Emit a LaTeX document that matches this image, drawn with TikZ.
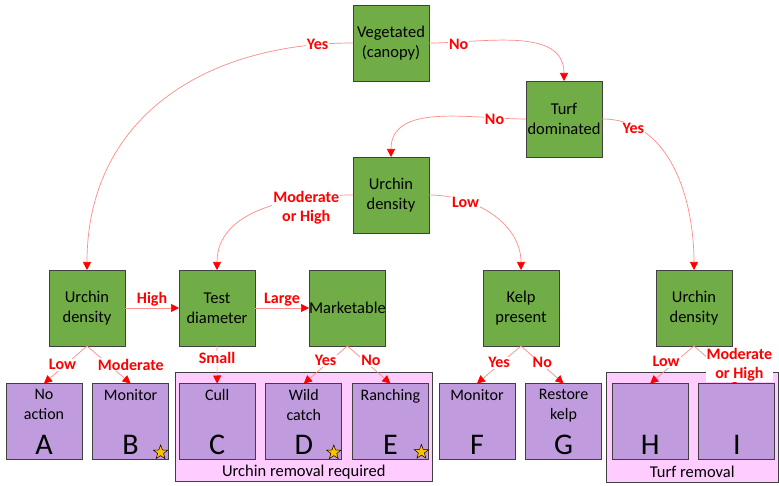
\documentclass[tikz,border=0pt]{standalone}
\usepackage{fontspec}
\setmainfont{Carlito}
\usetikzlibrary{shapes.geometric, arrows.meta, positioning, fit, backgrounds, calc}
\definecolor{decisiongreen}{HTML}{70AD47}
\definecolor{outcomepurple}{HTML}{C09BDE}
\definecolor{grouppink}{HTML}{FFCCFF}
\definecolor{boxborder}{HTML}{404040}
\definecolor{linkred}{HTML}{FF8A8A}
\definecolor{tipred}{HTML}{FF0000}
\definecolor{stargold}{HTML}{FFC000}
\tikzstyle{decision} = [rectangle, minimum width=76pt, minimum height=76pt, inner sep=0pt, outer sep=0pt, align=center, draw=boxborder, line width=0.8pt, fill=decisiongreen, font=\fontsize{16.5}{20}\selectfont]
\tikzstyle{outcome} = [rectangle, minimum width=76pt, minimum height=76pt, inner sep=0pt, outer sep=0pt, draw=boxborder, line width=0.8pt, fill=outcomepurple]
\tikzstyle{outcometext} = [anchor=north, yshift=-6pt, inner sep=0pt, align=center, font=\fontsize{16}{20}\selectfont]
\tikzstyle{letter} = [anchor=base, yshift=5pt, inner sep=0pt, font=\fontsize{30}{30}\selectfont]
\tikzstyle{container} = [rectangle, inner sep=0pt, draw=boxborder, line width=0.8pt, fill=grouppink]
\tikzstyle{containertext} = [anchor=base, inner sep=0pt, font=\fontsize{16.5}{20}\selectfont]
\tikzstyle{choice} = [fill=white, text=tipred, inner sep=1pt, align=center, font=\bfseries\fontsize{16}{19}\selectfont]
\tikzstyle{link} = [draw=linkred, line width=0.7pt, -{Triangle[length=8pt, width=8pt, color=tipred]}]
\tikzstyle{award} = [star, star points=5, star point ratio=2.4, minimum size=15pt, inner sep=0pt, draw=black, line width=0.5pt, fill=stargold]

\begin{document}
\begin{tikzpicture}[x=1pt, y=1pt]
    \useasboundingbox (0,0) rectangle (779,-486);

    % Decisions
    \node[decision] (veg) at (391,-43) {Vegetated\\(canopy)};
    \node[decision] (turf) at (564,-119) {Turf\\dominated};
    \node[decision] (urchinmid) at (391,-195) {Urchin\\density};
    \node[decision] (urchinleft) at (87,-308) {Urchin\\density};
    \node[decision, right=54pt of urchinleft] (test) {Test\\diameter};
    \node[decision, right=54pt of test] (market) {Marketable};
    \node[decision] (kelp) at (521,-308) {Kelp\\present};
    \node[decision] (urchinright) at (694,-308) {Urchin\\density};

    % Outcomes
    \node[outcome, label={[outcometext]north:No\\action}, label={[letter]south:A}] (A) at (44,-421.5) {};
    \node[outcome, right=10.6pt of A, label={[outcometext]north:Monitor}, label={[letter]south:B}] (B) {};
    \node[outcome, right=10.6pt of B, label={[outcometext]north:Cull}, label={[letter]south:C}] (C) {};
    \node[outcome, right=10.6pt of C, label={[outcometext]north:Wild\\catch}, label={[letter]south:D}] (D) {};
    \node[outcome, right=10.6pt of D, label={[outcometext]north:Ranching}, label={[letter]south:E}] (E) {};
    \node[outcome, right=10.6pt of E, label={[outcometext]north:Monitor}, label={[letter]south:F}] (F) {};
    \node[outcome, right=10.6pt of F, label={[outcometext]north:Restore\\kelp}, label={[letter]south:G}] (G) {};
    \node[outcome, right=10.6pt of G, label={[letter]south:H}] (H) {};
    \node[outcome, right=10.6pt of H, label={[letter]south:I}] (I) {};

    \node[award] (starB) at ([xshift=-8pt, yshift=7pt]B.south east) {};
    \node[award] (starD) at ([xshift=-8pt, yshift=7pt]D.south east) {};
    \node[award] (starE) at ([xshift=-7pt, yshift=7.5pt]E.south east) {};

    % Groups
    \begin{scope}[on background layer]
        \node[container, fit={($(C.north west)+(-4,11)$) ($(E.south east)+(4,-22)$)}] (urchinremoval) {};
        \node[container, fit={($(H.north west)+(-6,11)$) ($(I.south east)+(3.5,-23)$)}] (turfremoval) {};
    \end{scope}
    \node[containertext] (urchinremovaltext) at ([yshift=5pt]urchinremoval.south) {Urchin removal required};
    \node[containertext] (turfremovaltext) at ([yshift=5pt]turfremoval.south) {Turf removal};

    \draw[link] (veg.west) to[out=180, in=90, looseness=1.1] node[choice, pos=0.08] {Yes} (urchinleft.north);
    \draw[link] (veg.east) to[out=0, in=90] node[choice, pos=0.17, yshift=-2pt] {No} (turf.north);
    \draw[link] (turf.west) to[out=180, in=90] node[choice, pos=0.18, yshift=-1pt] {No} (urchinmid.north);
    \draw[link] (turf.east) to[out=0, in=90] node[choice, pos=0.17, yshift=-3pt] {Yes} (urchinright.north);
    \draw[link] (urchinmid.west) to[out=180, in=90] node[choice, pos=0.25, yshift=-10pt] {Moderate\\or High} (test.north);
    \draw[link] (urchinmid.east) to[out=0, in=90] node[choice, pos=0.27, yshift=-1pt] {Low} (kelp.north);
    \draw[link] (urchinleft) -- node[choice, above] {High} (test);
    \draw[link] (test) -- node[choice, above] {Large} (market);
    \draw[link] (urchinleft.south) -- node[choice, xshift=-3pt] {Low} (A.north);
    \draw[link] (urchinleft.south) -- node[choice, xshift=22pt] {Moderate} (B.north);
    \draw[link] (test) -- node[choice, pos=0.32] {Small} (C);
    \draw[link] (market.south) -- node[choice, yshift=4pt] {Yes} (D.north);
    \draw[link] (market.south) -- node[choice, xshift=2pt, yshift=4pt] {No} (E.north);
    \draw[link] (kelp.south) -- node[choice, yshift=2pt] {Yes} (F.north);
    \draw[link] (kelp.south) -- node[choice, yshift=2pt] {No} (G.north);
    \draw[link] (urchinright.south) -- node[choice, xshift=-6pt, yshift=3pt] {Low} (H.north);
    \draw[link] (urchinright.south) -- node[choice, xshift=24pt] {Moderate\\or High} (I.north);
\end{tikzpicture}
\end{document}
